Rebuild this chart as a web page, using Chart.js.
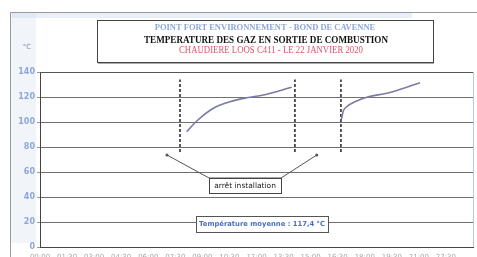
<!DOCTYPE html>
<html><head><meta charset="utf-8">
<script src="https://cdn.jsdelivr.net/npm/chart.js@4/dist/chart.umd.min.js"></script>
<style>html,body{margin:0;padding:0;background:#fff;overflow:hidden}#wrap{width:477px;height:257px}</style>
</head><body><div id="wrap"><canvas id="c" width="477" height="257"></canvas></div>
<script>
// Data (hours of the day, temperature °C)
const seg1Hours = [8.13, 8.69, 9.61, 10.53, 11.46, 12.38, 13.95];
const seg1Temps = [92.2, 100.8, 111.0, 116.2, 119.4, 121.6, 127.8];
const seg2Hours = [16.71, 16.81, 17.0, 17.55, 18.2, 19.22, 21.06];
const seg2Temps = [102.4, 108.8, 112.2, 116.8, 120.2, 123.0, 131.4];
const stopHours = [7.76, 14.13, 16.68];
const stopRange = [76, 134];
const yTicks = [0, 20, 40, 60, 80, 100, 120, 140];
const titleLines = ["POINT FORT ENVIRONNEMENT - BOND DE CAVENNE", "TEMPERATURE DES GAZ EN SORTIE DE COMBUSTION", "CHAUDIERE LOOS C411 - LE 22 JANVIER 2020"];
const calloutText = "arrêt installation";
const averageText = "Température moyenne : 117,4 °C";

const toPts = (xs, ys) => xs.map((x, i) => ({x, y: ys[i]}));
const curveColor = '#7b7ca3';
const datasets = [
  {data: toPts(seg1Hours, seg1Temps), borderColor: curveColor, borderWidth: 1.6, pointRadius: 0, showLine: true, cubicInterpolationMode: 'monotone'},
  {data: toPts(seg2Hours, seg2Temps), borderColor: curveColor, borderWidth: 1.6, pointRadius: 0, showLine: true, cubicInterpolationMode: 'monotone'}
];
stopHours.forEach(h => datasets.push({data: [{x: h, y: stopRange[0]}, {x: h, y: stopRange[1]}], borderColor: '#222', borderWidth: 1.5, borderDash: [3, 2], pointRadius: 0, showLine: true}));

const deco = {
  id: 'deco',
  beforeDraw(chart) {
    const ctx = chart.ctx;
    ctx.save();
    ctx.fillStyle = '#fff'; ctx.fillRect(0, 0, chart.width, chart.height);
    ctx.fillStyle = 'rgba(190,210,235,0.35)'; ctx.fillRect(12, 13, 400, 5);
    ctx.fillStyle = 'rgba(200,215,235,0.25)'; ctx.fillRect(11, 13, 25, 230);
    ctx.strokeStyle = '#9a9a9a'; ctx.lineWidth = 1;
    ctx.beginPath(); ctx.moveTo(10.5, 257); ctx.lineTo(10.5, 12.5); ctx.lineTo(477, 12.5); ctx.stroke();
    ctx.restore();
  },
  afterDraw(chart) {
    const ctx = chart.ctx, a = chart.chartArea, xs = chart.scales.x, ys = chart.scales.y;
    ctx.save();
    ctx.strokeStyle = '#555'; ctx.lineWidth = 1;
    ctx.beginPath(); ctx.moveTo(a.left, a.top + 0.5); ctx.lineTo(a.right, a.top + 0.5); ctx.stroke();
    ctx.strokeStyle = '#b8c8e0';
    ctx.beginPath(); ctx.moveTo(a.right + 0.5, a.top); ctx.lineTo(a.right + 0.5, a.bottom); ctx.stroke();
    ctx.fillStyle = '#7f8fb0'; ctx.font = '7px "DejaVu Sans"'; ctx.textAlign = 'center'; ctx.textBaseline = 'middle';
    ctx.fillText('°C', 27, 47);
    // title box
    ctx.fillStyle = '#fff'; ctx.fillRect(97, 20, 336, 42);
    ctx.strokeStyle = '#444'; ctx.lineWidth = 1; ctx.strokeRect(97.5, 20.5, 336, 42);
    ctx.strokeStyle = '#aaa'; ctx.beginPath(); ctx.moveTo(98, 63.5); ctx.lineTo(434, 63.5); ctx.stroke();
    ctx.textAlign = 'center';
    ctx.fillStyle = '#8ea6d6'; ctx.font = 'bold 8.5px "Liberation Serif"'; ctx.fillText(titleLines[0], 265, 28, 242);
    ctx.fillStyle = '#111'; ctx.font = 'bold 10.5px "Liberation Serif"'; ctx.fillText(titleLines[1], 266, 40.5, 244);
    ctx.fillStyle = '#e0546a'; ctx.font = '9.5px "Liberation Serif"'; ctx.fillText(titleLines[2], 271, 50, 184);
    // callout
    const px = v => xs.getPixelForValue(v), py = v => ys.getPixelForValue(v);
    const aL = [px(7.04), py(73.6)], aR = [px(15.34), py(73.6)];
    const bL = px(9.37), bR = px(13.36), bT = py(55.2), bB = py(43.2);
    ctx.strokeStyle = '#555'; ctx.lineWidth = 1;
    ctx.beginPath(); ctx.moveTo(aL[0], aL[1]); ctx.lineTo(bL, bT); ctx.lineTo(bR, bT); ctx.lineTo(aR[0], aR[1]); ctx.stroke();
    ctx.fillStyle = '#555';
    [aL, aR].forEach(p => { ctx.beginPath(); ctx.arc(p[0], p[1], 1.5, 0, Math.PI * 2); ctx.fill(); });
    ctx.fillStyle = '#fff'; ctx.fillRect(bL, bT, bR - bL, bB - bT);
    ctx.strokeStyle = '#444'; ctx.strokeRect(Math.round(bL) + 0.5, Math.round(bT) + 0.5, Math.round(bR - bL), Math.round(bB - bT));
    ctx.fillStyle = '#222'; ctx.font = '7.5px "DejaVu Sans"'; ctx.textBaseline = 'middle';
    ctx.fillText(calloutText, (bL + bR) / 2, (bT + bB) / 2 + 0.5, bR - bL - 6);
    // average box
    const mL = px(8.65), mR = px(15.96), mT = py(24.8), mB = py(12);
    ctx.fillStyle = '#fff'; ctx.fillRect(mL, mT, mR - mL, mB - mT);
    ctx.strokeStyle = '#555'; ctx.strokeRect(Math.round(mL) + 0.5, Math.round(mT) + 0.5, Math.round(mR - mL), Math.round(mB - mT));
    ctx.fillStyle = '#4a6fc0'; ctx.font = 'bold 7px "DejaVu Sans"';
    ctx.fillText(averageText, (mL + mR) / 2, (mT + mB) / 2 + 0.5, mR - mL - 6);
    ctx.restore();
  }
};

new Chart(document.getElementById('c'), {
  type: 'scatter',
  data: {datasets},
  options: {
    responsive: false, animation: false, events: [],
    layout: {padding: {left: 0, top: 72, right: 4, bottom: 0}},
    plugins: {legend: {display: false}, tooltip: {enabled: false}, title: {display: false}},
    scales: {
      x: {
        type: 'linear', min: 0, max: 24,
        afterFit: s => { s.height = 10; s.paddingLeft = 0; s.paddingRight = 0; },
        grid: {display: false, drawTicks: false},
        border: {color: '#444', width: 1},
        ticks: {stepSize: 1.5, padding: 6, color: '#a8a8a8', font: {size: 7, family: 'DejaVu Sans'},
          callback: v => { if (v === 24) return ''; const h = Math.floor(v), m = Math.round((v - h) * 60); return String(h).padStart(2, '0') + ':' + String(m).padStart(2, '0'); }}
      },
      y: {
        min: 0, max: 140,
        afterFit: s => { s.width = 40; },
        afterBuildTicks: s => { s.ticks = yTicks.map(v => ({value: v})); },
        grid: {color: '#707070', lineWidth: 1, drawTicks: true, tickLength: 3, tickColor: '#999'},
        border: {color: '#444', width: 1},
        ticks: {color: '#8ea6d6', font: {size: 8, weight: 'bold', family: 'DejaVu Sans'}, padding: 2}
      }
    }
  },
  plugins: [deco]
});
</script></body></html>
